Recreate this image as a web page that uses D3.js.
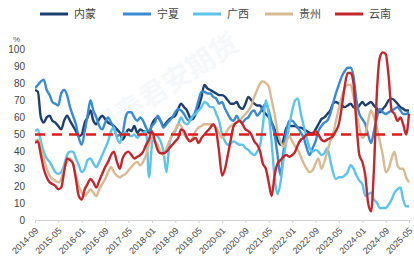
<!DOCTYPE html>
<html><head><meta charset="utf-8">
<script src="https://cdn.jsdelivr.net/npm/d3@7"></script>
<style>body{margin:0;background:#fff}svg{display:block}</style>
</head><body><svg id="c" width="414" height="267"></svg>
<script>
const seriesNames = ["内蒙","宁夏","广西","贵州","云南"];
const colors = ["#1d3f6e","#3a8ad2","#5ec3ea","#d9b994","#c1272d"];
const startMonth = "2014-09";
const tickLabels = ["2014-09","2015-05","2016-01","2016-09","2017-05","2018-01","2018-09","2019-05","2020-01","2020-09","2021-05","2022-01","2022-09","2023-05","2024-01","2024-09","2025-05"];
const yTicks = [0,10,20,30,40,50,60,70,80,90,100];
const refLine = 50;

const neimeng = [76,75,60,57,60,61,58,57,55,53,58,61,58,55,52,49,50,57,60,64,58,56,59,61,59,57,56,55,53,51,47,50,53,52,55,51,53,52,52,51,56,59,60,58,55,57,59,60,61,65,68,66,64,60,59,62,66,72,79,77,76,75,74,73,73,72,70,68,68,69,66,65,68,72,70,68,67,67,64,62,60,57,53,47,44,47,54,55,55,55,54,54,53,52,51,50,53,56,59,60,62,64,68,69,68,67,66,67,68,66,65,67,69,67,68,69,67,65,63,65,67,70,71,70,68,66,65,64,64];
const ningxia = [77,79,81,82,76,73,69,68,67,74,76,73,66,61,56,48,44,52,61,70,64,60,55,53,57,60,57,54,49,50,51,60,63,63,60,58,60,58,54,52,55,57,61,58,54,56,58,60,63,65,64,62,59,58,60,64,70,75,75,74,74,72,71,68,69,65,62,59,58,61,58,57,59,60,63,64,61,63,66,68,64,57,50,38,26,40,52,58,58,56,54,51,48,42,38,42,46,52,55,57,58,62,68,74,79,84,87,89,89,84,70,62,59,56,50,45,52,60,65,63,62,63,64,65,66,64,62,62,63];
const guangxi = [52,53,46,40,36,34,31,28,27,28,32,38,40,40,36,32,28,30,35,36,33,31,34,38,42,46,52,54,48,45,50,51,50,49,50,48,50,51,52,25,44,50,49,46,40,28,44,50,52,56,60,57,56,58,61,62,64,66,69,68,66,66,62,58,50,46,44,45,46,45,44,44,42,41,39,38,40,44,55,70,62,45,25,15,22,35,46,55,64,70,71,62,55,48,42,40,41,40,38,39,42,35,28,24,25,25,26,28,32,30,26,23,21,14,15,16,12,10,7,7,7,9,12,16,18,19,12,8,8];
const guizhou = [46,47,42,36,30,26,24,23,22,24,30,34,36,33,26,20,16,14,16,18,16,14,18,21,24,28,31,28,26,25,26,27,29,31,33,34,32,34,38,44,48,46,44,40,38,42,46,50,53,56,55,50,48,46,48,52,54,55,56,56,56,55,54,51,48,50,53,55,56,57,58,60,62,64,67,72,76,80,81,80,78,70,62,52,46,43,46,49,46,43,41,37,33,30,28,29,33,36,30,34,40,46,50,58,65,72,77,79,79,72,62,54,48,50,58,64,60,54,46,38,28,30,36,40,32,30,30,25,22];
const yunnan = [45,46,38,30,25,22,21,20,18,19,28,36,35,33,24,14,12,18,21,24,22,19,23,27,31,34,38,40,34,30,36,39,40,38,36,37,38,40,44,47,52,46,41,39,39,40,42,44,46,48,53,52,48,46,47,48,45,48,50,52,54,56,52,40,26,30,38,47,55,57,58,56,53,52,50,46,44,40,33,30,22,14,26,33,35,37,38,37,38,40,44,47,48,50,50,51,52,50,47,46,47,48,49,52,56,66,78,86,86,80,56,38,34,26,10,5,30,75,95,98,97,84,64,62,58,60,56,50,62];
const seriesValues = [neimeng, ningxia, guangxi, guizhou, yunnan];

const parse = d3.timeParse("%Y-%m");
const t0 = parse(startMonth);
const dates = neimeng.map((_, i) => d3.timeMonth.offset(t0, i));

const svg = d3.select("#c");
const m = {l:35, r:409, t:49, b:220};
const x = d3.scaleTime().domain([parse(tickLabels[0]), parse(tickLabels[tickLabels.length-1])]).range([m.l, m.r]);
const y = d3.scaleLinear().domain([0,100]).range([m.b, m.t]);

// faint watermark
const wm = svg.append("g").attr("fill","#a4afbf").attr("opacity",0.09).attr("font-family","Noto Sans CJK SC");
wm.append("text").attr("transform","translate(100,140) rotate(-33)").attr("font-size",28).attr("font-weight","bold").text("国泰君安期货");
wm.append("text").attr("transform","translate(128,152) rotate(-33)").attr("font-size",9).attr("font-family","DejaVu Sans").text("GUOTAI JUNAN FUTURES");

// x axis
const xAxis = d3.axisBottom(x).tickValues(tickLabels.map(parse)).tickFormat(d3.timeFormat("%Y-%m")).tickSize(3).tickSizeOuter(0);
const gx = svg.append("g").attr("transform",`translate(0,${m.b})`).call(xAxis);
gx.select(".domain").attr("stroke","#d0d0d0");
gx.selectAll(".tick line").attr("stroke","#d0d0d0");
gx.selectAll(".tick text").attr("fill","#444").attr("font-size",9).attr("font-family","Liberation Sans")
  .attr("text-anchor","end").attr("dx","-0.6em").attr("dy","0.5em").attr("transform","rotate(-45)");

// y axis
const yAxis = d3.axisLeft(y).tickValues(yTicks).tickSize(0).tickPadding(6);
const gy = svg.append("g").attr("transform",`translate(${m.l-4},0)`).call(yAxis);
gy.select(".domain").remove();
gy.selectAll(".tick text").attr("fill","#444").attr("font-size",10).attr("font-family","Liberation Sans");
svg.append("text").attr("x",13).attr("y",42).attr("font-size",8).attr("fill","#555").attr("font-family","Liberation Sans").text("%");

// lines
const line = d3.line().x((d,i)=>x(dates[i])).y(d=>y(d)).curve(d3.curveMonotoneX);
svg.append("clipPath").attr("id","pc").append("rect").attr("x",m.l).attr("y",m.t-10).attr("width",m.r-m.l+3).attr("height",m.b-m.t+10);
const gl = svg.append("g").attr("clip-path","url(#pc)");
seriesValues.forEach((vals, k) => {
  gl.append("path").datum(vals).attr("d", line).attr("fill","none")
    .attr("stroke", colors[k]).attr("stroke-width", 2.4).attr("stroke-linejoin","round");
});
// reference dashed line
svg.append("line").attr("x1",m.l).attr("x2",m.r).attr("y1",y(refLine)).attr("y2",y(refLine))
  .attr("stroke","#e01b1b").attr("stroke-width",2.6).attr("stroke-dasharray","10,7");

// legend
const legX = [40,123,193,265,335];
const lg = svg.append("g");
seriesNames.forEach((n,k)=>{
  lg.append("line").attr("x1",legX[k]).attr("x2",legX[k]+28).attr("y1",14).attr("y2",14).attr("stroke",colors[k]).attr("stroke-width",3);
  lg.append("text").attr("x",legX[k]+34).attr("y",18).attr("font-size",11).attr("fill","#444").attr("font-family","Noto Sans CJK SC").text(n);
});
</script></body></html>
